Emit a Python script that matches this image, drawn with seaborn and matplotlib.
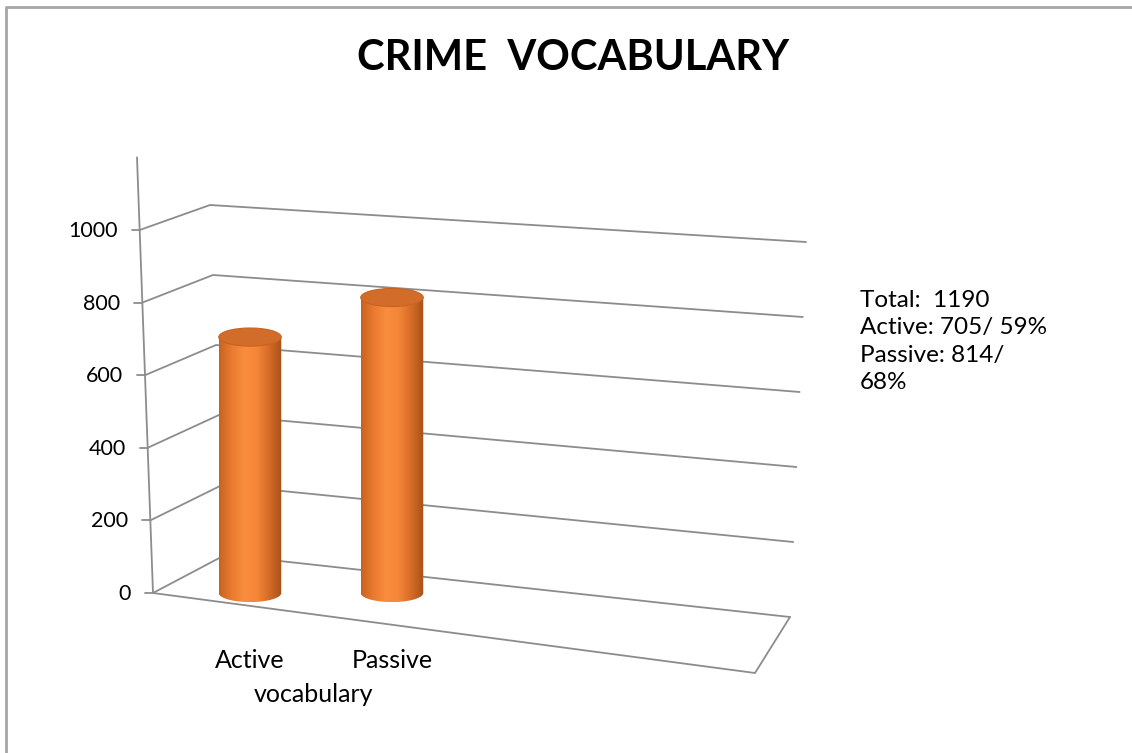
import numpy as np
import matplotlib
matplotlib.use('Agg')
import matplotlib.pyplot as plt
import matplotlib.transforms as mtransforms
from matplotlib.colors import LinearSegmentedColormap
from matplotlib.patches import Ellipse, PathPatch
from matplotlib.path import Path
import pandas as pd
import seaborn as sns

# data
categories = ['Active', 'Passive']
counts = [705, 814]
shares = [59, 68]
total = 1190
y_ticks = [0, 200, 400, 600, 800, 1000]
title = 'CRIME  VOCABULARY'

sns.set_theme(style='white')
plt.rcParams['font.family'] = ['Lato', 'DejaVu Sans']
plt.rcParams['text.color'] = 'black'

W, H = 1132, 753
fig = plt.figure(figsize=(W / 100, H / 100), dpi=100)

# background axes in pixel units for the 3d-looking frame and the texts
bg = fig.add_axes([0, 0, 1, 1])
bg.set_xlim(0, W)
bg.set_ylim(H, 0)
bg.axis('off')

# projection of the value scale (front axis, left wall, back wall)
y0_px, px_per_unit = 593, 0.363
def front(v):
    return 153 - 16 * v / 1200, y0_px - px_per_unit * v
def back_left(v):
    return 225 - 15 * v / 1000, 555 - 0.35 * v
def back_right(v):
    return 790 + 0.016 * v, 617 - 0.375 * v

grid_kw = dict(color='#8c8c8c', lw=1.3, solid_capstyle='round')

# front vertical axis
fx0, fy0 = front(0)
fx1, fy1 = front(1200)
bg.plot([fx0, fx1], [fy0, fy1], **grid_kw)

for v in y_ticks:
    fx, fy = front(v)
    lx, ly = back_left(v)
    rx, ry = back_right(v)
    bg.plot([fx, lx, rx], [fy, ly, ry], **grid_kw)
    bg.plot([fx - 8, fx], [fy, fy], **grid_kw)
    bg.text(fx - 22, fy + 1, str(v), ha='right', va='center', fontsize=15.5)

# floor front and side edges
rx, ry = back_right(0)
bg.plot([fx0, 755, rx], [fy0, 673, ry], **grid_kw)

# outer border (only top and left show in the crop)
bg.plot([6, 6, W], [H, 7, 7], color='#a6a6a6', lw=2)

bg.text(573, 58, title, ha='center', va='center', fontsize=30, fontweight='bold')

summary = (f'Total:  {total}\n'
           f'Active: {counts[0]}/ {shares[0]}%\n'
           f'Passive: {counts[1]}/\n'
           f'{shares[1]}%')
bg.text(860, 290, summary, ha='left', va='top', fontsize=17.5, linespacing=1.38)

# bar axes aligned with the front value scale
cat_px0, cat_step = 250, 142
xlim = (-0.8, 3.4)
ylim = (-80, 1200)
left_px = cat_px0 + xlim[0] * cat_step
right_px = cat_px0 + xlim[1] * cat_step
top_px = y0_px - ylim[1] * px_per_unit
bot_px = y0_px - ylim[0] * px_per_unit
ax = fig.add_axes([left_px / W, 1 - bot_px / H,
                   (right_px - left_px) / W, (bot_px - top_px) / H])
ax.patch.set_alpha(0)

df = pd.DataFrame({'category': categories, 'count': counts})
sns.barplot(data=df, x='category', y='count', color='#f38b3c', width=0.44,
            saturation=1, ax=ax, zorder=2)

# cylinder shading on top of each bar
cyl_cmap = LinearSegmentedColormap.from_list(
    'cyl', ['#c9621f', '#e97a30', '#f98d3e', '#f48638', '#d46b27', '#a8521a'])
grad = np.linspace(0, 1, 256)[None, :]
ell_h = 50
for p in ax.patches:
    x0, w, h = p.get_x(), p.get_width(), p.get_height()
    cx = x0 + w / 2
    p.set_visible(False)
    t = np.linspace(np.pi, 2 * np.pi, 60)
    verts = [(x0, h), (x0, 0)]
    verts += list(zip(cx + w / 2 * np.cos(t), ell_h / 2 * np.sin(t)))
    verts += [(x0 + w, h), (x0, h)]
    codes = [Path.MOVETO] + [Path.LINETO] * (len(verts) - 2) + [Path.CLOSEPOLY]
    clip = PathPatch(Path(verts, codes), transform=ax.transData,
                     facecolor='none', edgecolor='none')
    ax.add_patch(clip)
    im = ax.imshow(grad, extent=[x0, x0 + w, -ell_h / 2, h], aspect='auto',
                   cmap=cyl_cmap, interpolation='bicubic', zorder=3)
    im.set_clip_path(clip)
    ax.add_patch(Ellipse((cx, h), w, ell_h, facecolor='#d26c2a', edgecolor='#c8641f',
                         lw=0.8, zorder=4))

ax.set_xlim(*xlim)
ax.set_ylim(*ylim)
ax.axis('off')

# category labels under the bars
lab_tr = mtransforms.blended_transform_factory(ax.transData, bg.transData)
for i, c in enumerate(categories):
    bg.text(i, 660, c, transform=lab_tr, ha='center', va='center', fontsize=18)
bg.text(0.45, 694, 'vocabulary', transform=lab_tr, ha='center', va='center', fontsize=18)

fig.savefig('out.png', dpi=100, facecolor='white')
